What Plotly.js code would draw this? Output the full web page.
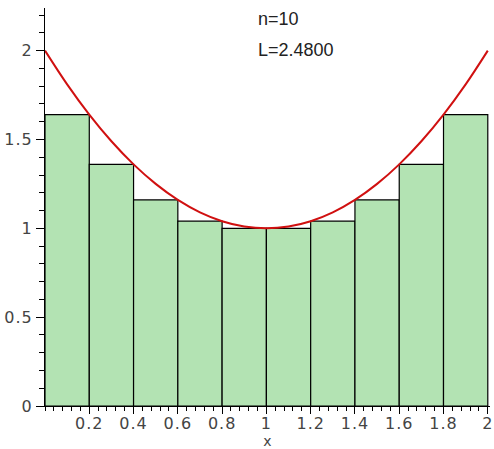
<!DOCTYPE html>
<html><head><meta charset="utf-8">
<script src="https://cdn.plot.ly/plotly-3.0.1.min.js"></script>
<style>html,body{margin:0;padding:0;background:#fff}#c{width:494px;height:449px}
g.xtick text, g.ytick text{letter-spacing:1px}</style>
</head><body><div id="c"></div>
<script>
// Bar (rectangle) centers, widths and heights: lower Riemann sum, n=10
const barCenters = [0.1,0.3,0.5,0.7,0.9,1.1,1.3,1.5,1.7,1.9];
const barHeights = [1.64,1.36,1.16,1.04,1.00,1.00,1.04,1.16,1.36,1.64];
const barWidth = 0.2;
// Curve points
const curveX = [0,0.1,0.2,0.3,0.4,0.5,0.6,0.7,0.8,0.9,1.0,1.1,1.2,1.3,1.4,1.5,1.6,1.7,1.8,1.9,2.0];
const curveY = [2.0,1.81,1.64,1.49,1.36,1.25,1.16,1.09,1.04,1.01,1.0,1.01,1.04,1.09,1.16,1.25,1.36,1.49,1.64,1.81,2.0];
const xTicks = [0.2,0.4,0.6,0.8,1,1.2,1.4,1.6,1.8,2];
const xTickText = ["0.2","0.4","0.6","0.8","1","1.2","1.4","1.6","1.8","2"];
const yTicks = [0,0.5,1,1.5,2];
const yTickText = ["0","0.5","1","1.5","2"];
const labels = ["n=10","L=2.4800"];

const font = {family:"DejaVu Sans, Verdana, sans-serif", size:16, color:"#444"};
const annFont = {family:"Liberation Sans, Arial, sans-serif", size:18, color:"#222"};
const data = [
  {type:"bar", x:barCenters, y:barHeights, width:barWidth,
   marker:{color:"rgb(179,227,179)", line:{color:"#000", width:1.2}},
   hoverinfo:"skip", showlegend:false},
  {type:"scatter", mode:"lines", x:curveX, y:curveY,
   line:{color:"#d01010", width:2, shape:"spline"}, showlegend:false}
];
const layout = {
  width:494, height:449,
  margin:{l:45, r:4, t:8, b:43},
  paper_bgcolor:"#fff", plot_bgcolor:"#fff",
  bargap:0,
  xaxis:{range:[0,2.01], showgrid:false, zeroline:false,
    showline:true, linecolor:"#000", linewidth:1,
    tickmode:"array", tickvals:xTicks, ticktext:xTickText,
    ticks:"outside", ticklen:7, tickcolor:"#000", tickwidth:1,
    ticklabelstandoff:-4,
    minor:{dtick:0.04, tick0:0, ticks:"outside", ticklen:4, tickcolor:"#000", tickwidth:1, showgrid:false},
    tickfont:font,
    title:{text:"x", font:{family:"DejaVu Sans, Verdana, sans-serif", size:14, color:"#444"}, standoff:0}},
  yaxis:{range:[0,2.24], showgrid:false, zeroline:false,
    showline:true, linecolor:"#000", linewidth:1,
    tickmode:"array", tickvals:yTicks, ticktext:yTickText,
    ticks:"outside", ticklen:8, tickcolor:"#000", tickwidth:1,
    minor:{dtick:0.1, tick0:0, ticks:"outside", ticklen:5, tickcolor:"#000", tickwidth:1, showgrid:false},
    tickfont:font},
  annotations:[
    {x:0.955, y:2.178, xref:"x", yref:"y", text:labels[0], showarrow:false, xanchor:"left", yanchor:"middle", font:annFont},
    {x:0.955, y:2.006, xref:"x", yref:"y", text:labels[1], showarrow:false, xanchor:"left", yanchor:"middle", font:annFont}
  ]
};
Plotly.newPlot("c", data, layout, {displayModeBar:false, staticPlot:true});
</script></body></html>
